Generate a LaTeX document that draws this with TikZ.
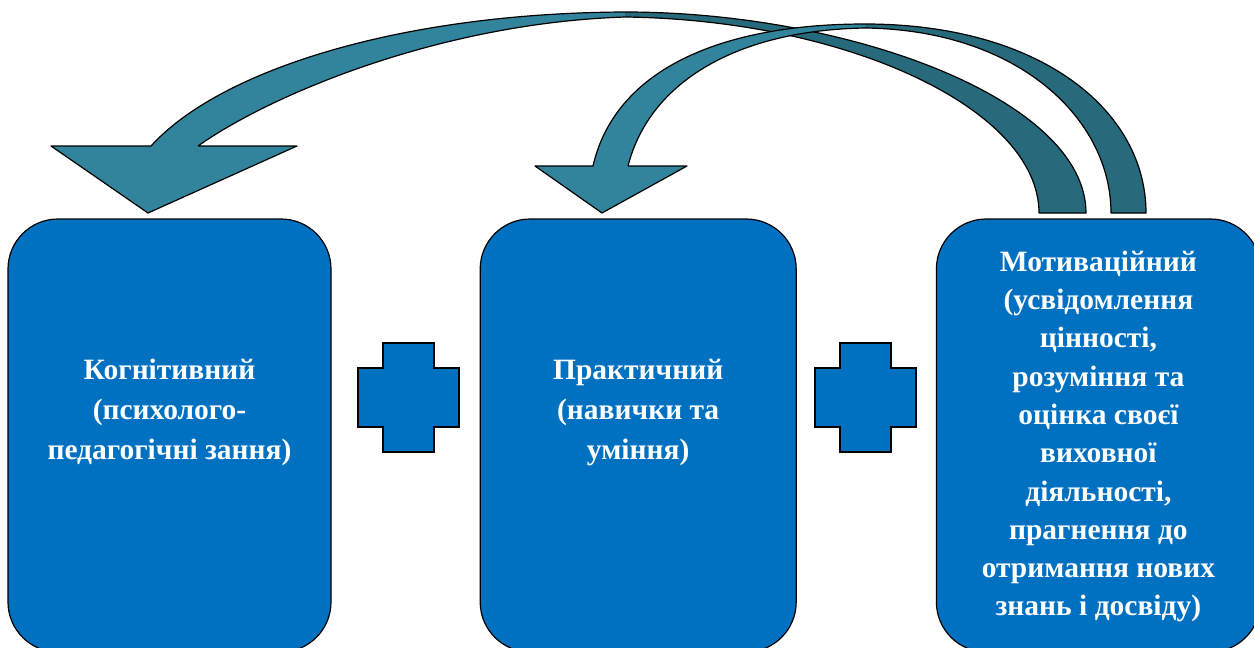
\documentclass[tikz,border=0pt]{standalone}
\usepackage{fontspec}
\setmainfont{Liberation Serif}
\usetikzlibrary{positioning}
\definecolor{boxblue}{HTML}{0070C0}
\definecolor{tealfront}{HTML}{31849B}
\definecolor{tealback}{HTML}{276A7B}
\tikzset{
  stage/.style={draw=black, line width=1.2pt, fill=boxblue, rounded corners=50pt,
    minimum width=#1, minimum height=433pt, inner sep=0pt},
  stagetext/.style={text=white, align=center, font=\bfseries\fontsize{29.5}{40}\selectfont},
  crossbox/.style={draw=black, line width=1.2pt, fill=boxblue},
  bendline/.style={draw=black, line width=1.2pt, line join=round}
}
\newcommand\crossat[1]{%
  \draw[crossbox] ([shift={(-25.5,-54.5)}]#1) -- ([shift={(25.5,-54.5)}]#1)
    -- ([shift={(25.5,-29.5)}]#1) -- ([shift={(50.5,-29.5)}]#1)
    -- ([shift={(50.5,29.5)}]#1) -- ([shift={(25.5,29.5)}]#1)
    -- ([shift={(25.5,54.5)}]#1) -- ([shift={(-25.5,54.5)}]#1)
    -- ([shift={(-25.5,29.5)}]#1) -- ([shift={(-50.5,29.5)}]#1)
    -- ([shift={(-50.5,-29.5)}]#1) -- ([shift={(-25.5,-29.5)}]#1) -- cycle;}
\begin{document}
\begin{tikzpicture}[x=1pt,y=-1pt]
  \useasboundingbox (0,0) rectangle (1254,648);

  \begin{scope}
    \node[stage=323pt] (cog) at (169.5,435.5) {};
    \node[stage=316pt, right=148pt of cog] (prac) {};
    \node[stage=324pt, right=139pt of prac] (motiv) {};
  \end{scope}

  \begin{scope}[every node/.style={stagetext}]
    \node (cogtext) at ([yshift=23pt]cog.center) {Когнітивний\\(психолого-\\педагогічні зання)};
    \node (practext) at ([yshift=23pt]prac.center) {Практичний\\(навички та\\уміння)};
    \node[font=\bfseries\fontsize{29.5}{38.3}\selectfont] (motivtext) at ([yshift=-1pt]motiv.center)
      {Мотиваційний\\(усвідомлення\\цінності,\\розуміння та\\оцінка своєї\\виховної\\діяльності,\\прагнення до\\отримання нових\\знань і досвіду)};
  \end{scope}

  \coordinate (plusA) at (408.5,397.5);
  \coordinate (plusB) at (865.5,397.5);
  \crossat{plusA}
  \crossat{plusB}

  \coordinate (tipcog) at (148,213);
  \coordinate (tipprac) at (602,213);
  \coordinate (topA) at (625,12);
  \coordinate (topB) at (865,24);

  \fill[tealfront] (198,146) -- (297,146) -- (tipcog) -- (51,146) -- (151,146)
    .. controls (220,70) and (400,13) .. (topA) -- (625,17)
    .. controls (440,23) and (270,95) .. (198,146) -- cycle;
  \fill[tealback] (topA) .. controls (850,12) and (1086,100) .. (1086,213)
    -- (1039,213) .. controls (1039,110) and (850,20) .. (625,17) -- cycle;
  \draw[bendline] (198,146) -- (297,146) -- (tipcog) -- (51,146) -- (151,146)
    .. controls (220,70) and (400,13) .. (topA)
    .. controls (850,12) and (1086,100) .. (1086,213) -- (1039,213)
    .. controls (1039,110) and (850,20) .. (625,17)
    .. controls (440,23) and (270,95) .. (198,146);

  \fill[tealback] (topB) .. controls (1040,24) and (1146,110) .. (1146,213)
    -- (1111,213) .. controls (1111,120) and (1020,30) .. (865,28) -- cycle;
  \fill[tealfront] (628,166) -- (687,166) -- (tipprac) -- (535,166) -- (593,166)
    .. controls (615,70) and (720,24) .. (topB) -- (865,28)
    .. controls (740,30) and (650,80) .. (628,166) -- cycle;
  \draw[bendline] (628,166) -- (687,166) -- (tipprac) -- (535,166) -- (593,166)
    .. controls (615,70) and (720,24) .. (topB)
    .. controls (1040,24) and (1146,110) .. (1146,213) -- (1111,213)
    .. controls (1111,120) and (1020,30) .. (865,28)
    .. controls (740,30) and (650,80) .. (628,166);

\end{tikzpicture}
\end{document}
